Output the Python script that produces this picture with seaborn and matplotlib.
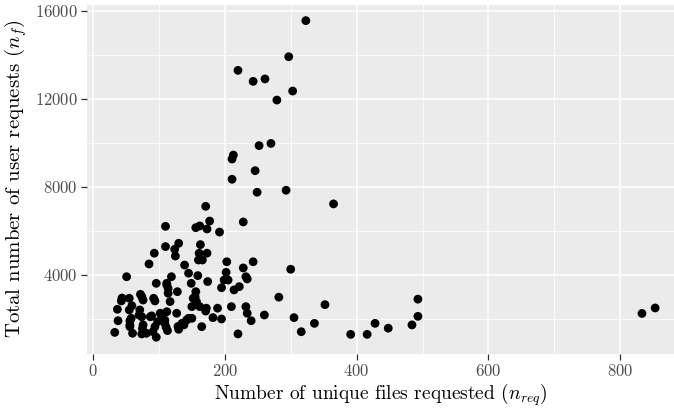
import numpy as np
import pandas as pd
import matplotlib
matplotlib.use("Agg")
import matplotlib.pyplot as plt
import seaborn as sns
from matplotlib.ticker import MultipleLocator

# Data
n_req = [323, 297, 220, 243, 261, 303, 279, 252, 270,
         293, 365, 300, 282, 305, 316, 336, 352, 391, 416, 428, 448, 484, 493, 493,
         833, 853,
         213, 211, 246, 211, 249, 171, 228, 177, 110, 156, 162, 173, 192,
         130, 163, 110, 124, 93, 161, 173, 125, 160, 166, 85, 139, 203, 243, 228,
         145, 159, 202, 51, 119, 232, 234, 199, 205, 96, 149, 174, 112, 114, 195,
         222, 214, 128, 156, 72, 114, 55, 43, 76, 94, 117, 152, 157, 59, 37, 55,
         71, 150, 162, 172, 189, 210, 232, 112, 127, 171, 234, 70, 89, 104, 260,
         182, 195, 240, 38, 56, 98, 109, 142, 150, 56, 94, 111, 130, 138, 165,
         75, 33, 60, 74, 96, 220, 91, 113,
         87, 102, 109, 135, 145, 129, 81, 44, 74, 58, 74, 56, 76, 155, 92, 112]
n_f = [15560, 13920, 13300, 12800, 12910, 12360, 11950, 9880, 9980,
       7850, 7230, 4260, 2990, 2060, 1420, 1800, 2650, 1300, 1300, 1800, 1580, 1730, 2120, 2900,
       2250, 2500,
       9450, 9270, 8740, 8350, 7760, 7120, 6410, 6450, 6210, 6150, 6230, 6090, 5950,
       5440, 5380, 5290, 5170, 4990, 4990, 4990, 4860, 4680, 4680, 4500, 4450, 4600, 4600, 4320,
       4080, 3970, 4120, 3920, 3920, 3920, 3820, 3770, 3770, 3620, 3620, 3700, 3550, 3390, 3420,
       3470, 3320, 3240, 3240, 3120, 3170, 2940, 2820, 2860, 2820, 2790, 2940, 2790, 2600, 2440, 2410,
       2410, 2560, 2560, 2490, 2490, 2560, 2560, 2330, 2260, 2360, 2260, 2180, 2140, 2180, 2180,
       2060, 2000, 1920, 1920, 1920, 1880, 1950, 1950, 2030, 1730, 1650, 1620, 1530, 1730, 1650,
       1570, 1390, 1350, 1320, 1170, 1320, 1420, 1470,
       2100, 2260, 1800, 1800, 2030, 1660, 1350, 2950, 3020, 2030, 2100, 1650, 1730, 3010, 2940, 3620]

df = pd.DataFrame({"n_req": n_req, "n_f": n_f})

plt.rcParams["font.family"] = ["cmr10", "DejaVu Serif"]
plt.rcParams["mathtext.fontset"] = "cm"
plt.rcParams["axes.formatter.use_mathtext"] = True

fig = plt.figure(figsize=(6.74, 4.08), dpi=100)
ax = fig.add_axes([87 / 674, 1 - 353.5 / 408, 1 - 87 / 674, (353.5 - 4.8) / 408])
ax.set_facecolor("#EBEBEB")

sns.scatterplot(data=df, x="n_req", y="n_f", ax=ax, color="black", s=40,
                edgecolor="none", linewidth=0, zorder=3)

ax.set_xlim(-9.1, 881.6)
ax.set_ylim(430, 16280)
ax.xaxis.set_major_locator(MultipleLocator(200))
ax.xaxis.set_minor_locator(MultipleLocator(100))
ax.yaxis.set_major_locator(MultipleLocator(4000))
ax.yaxis.set_minor_locator(MultipleLocator(2000))
ax.grid(which="major", color="white", linewidth=1.1, zorder=0)
ax.grid(which="minor", color="white", linewidth=0.55, zorder=0)
ax.set_axisbelow(True)
for sp in ax.spines.values():
    sp.set_visible(False)
ax.tick_params(which="major", direction="out", length=4, width=0.9,
               color="#333333", labelcolor="#4D4D4D", labelsize=12, pad=2.5)
ax.tick_params(which="minor", length=0)

ax.set_xlabel(r"Number of unique files requested ($n_{req}$)", fontsize=14, color="black", labelpad=2)
ax.set_ylabel(r"Total number of user requests ($n_f$)", fontsize=15, color="black", labelpad=4)

fig.savefig("out.png", dpi=100)
